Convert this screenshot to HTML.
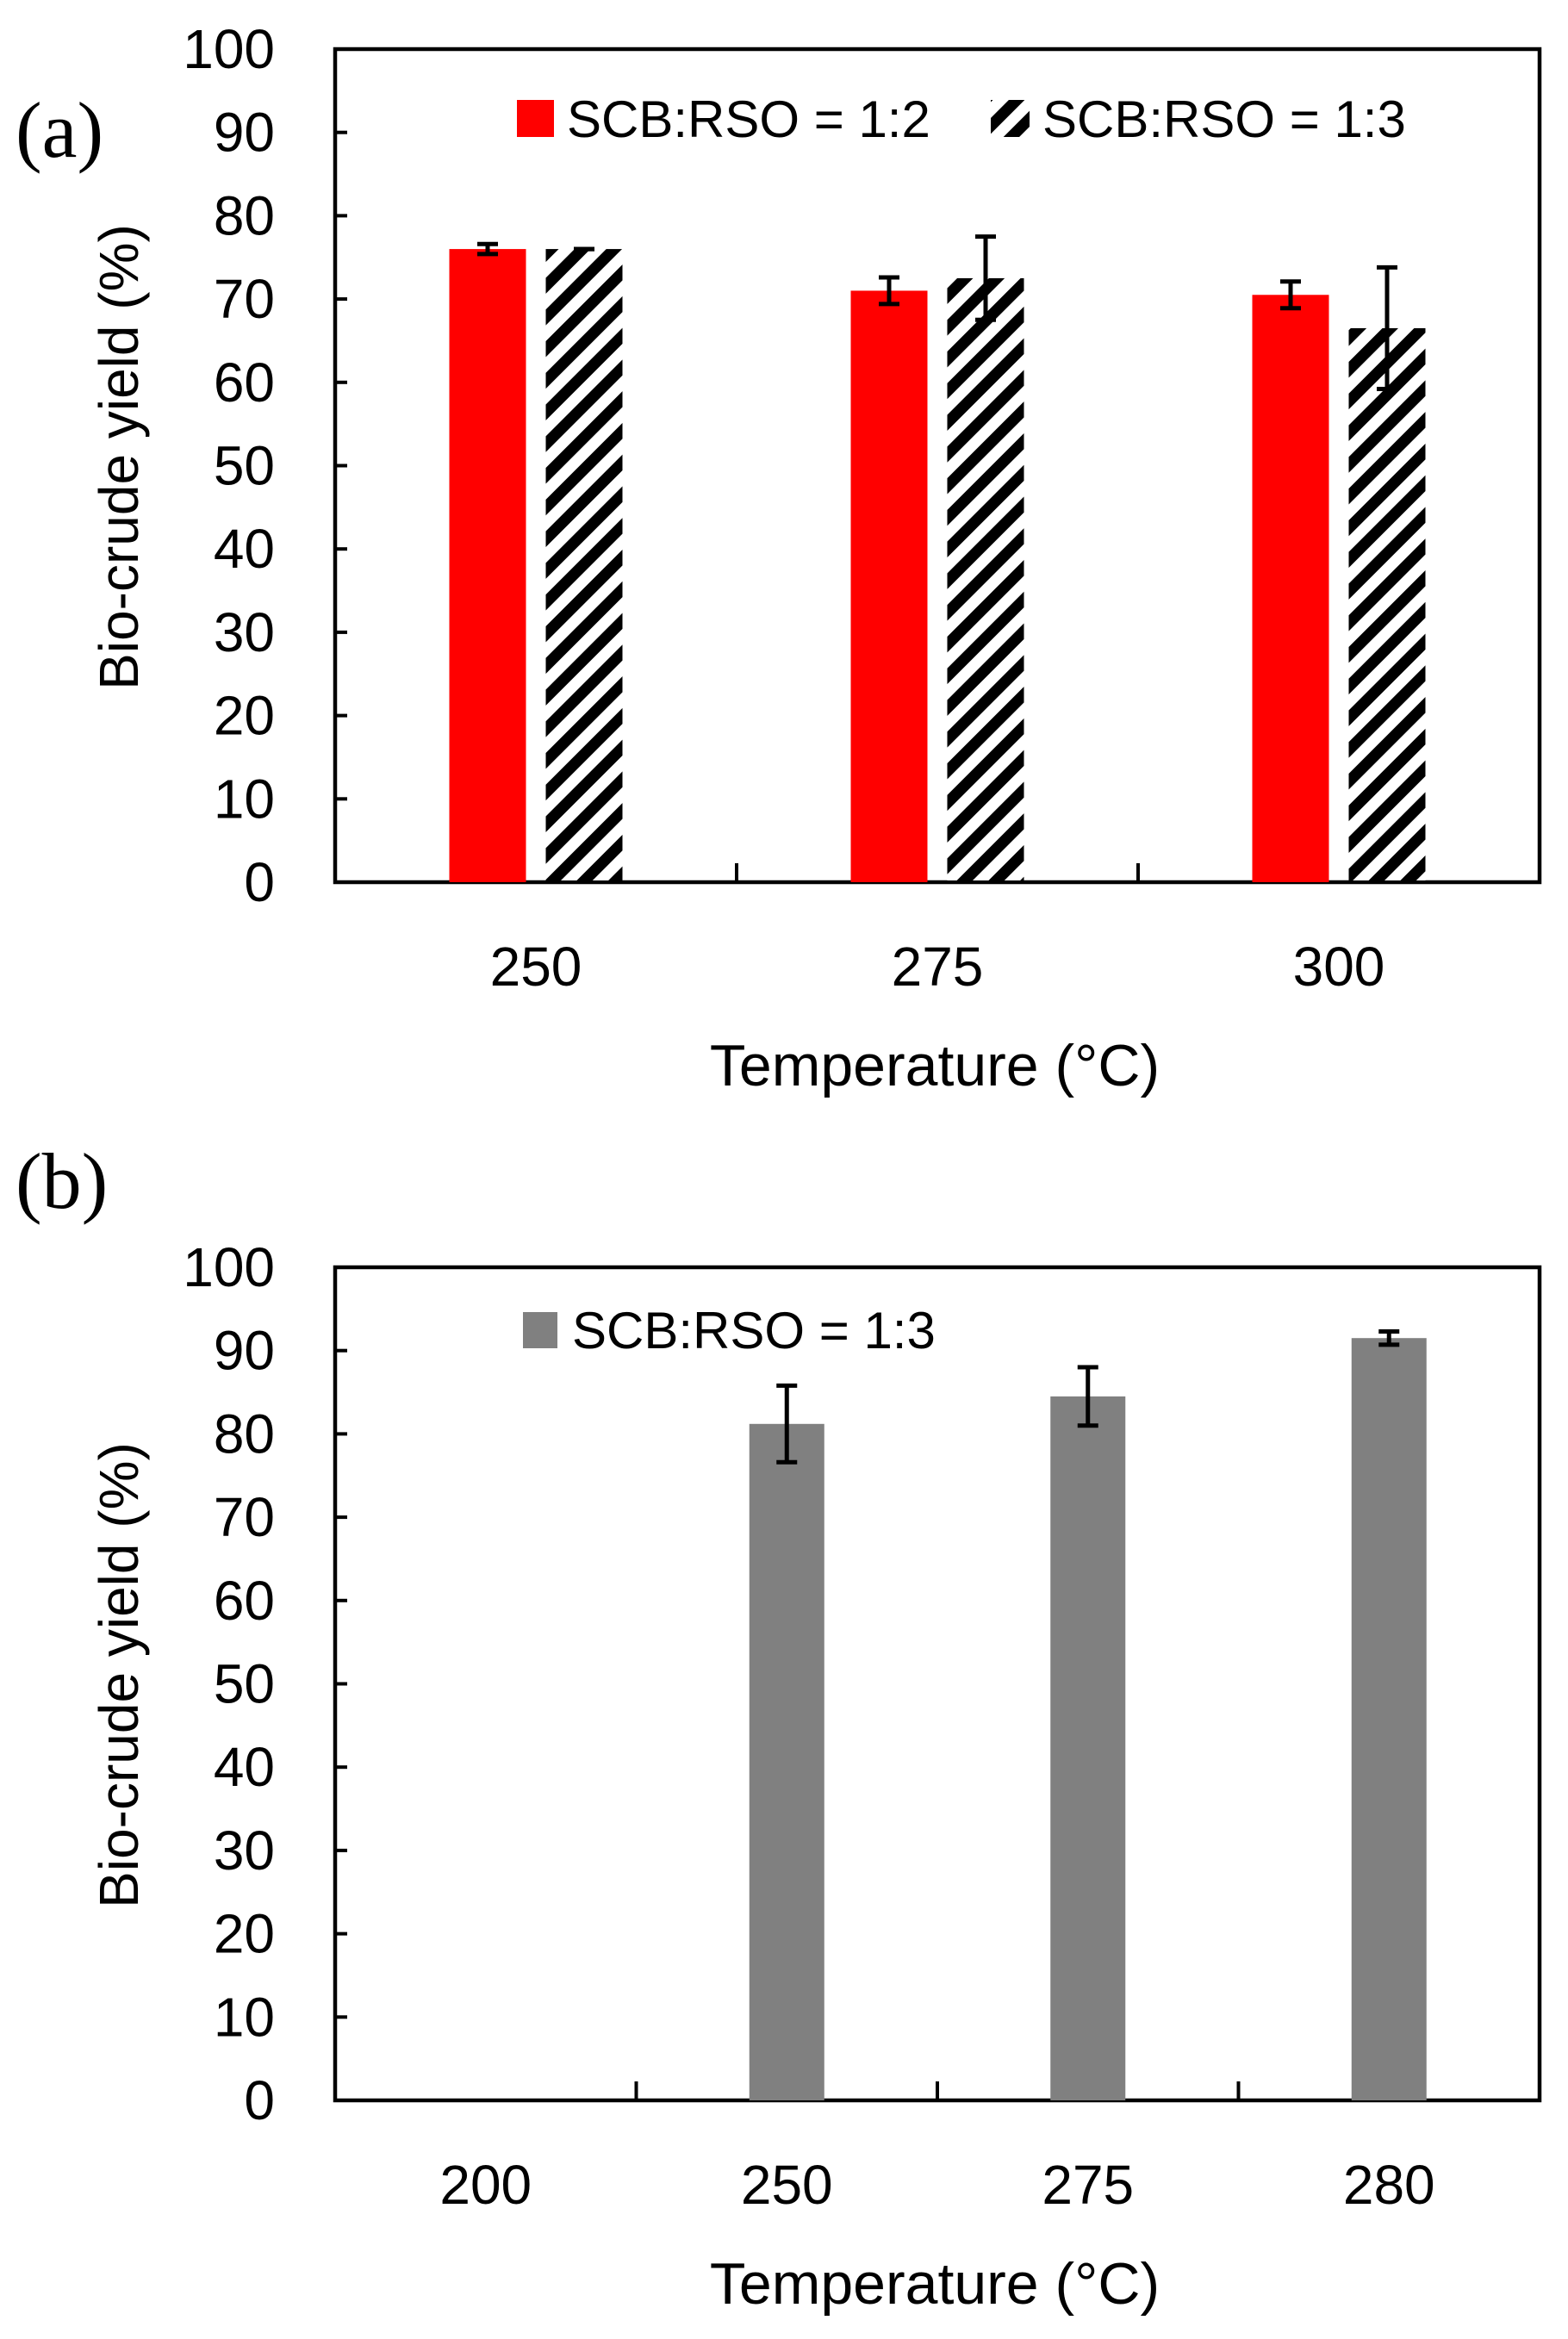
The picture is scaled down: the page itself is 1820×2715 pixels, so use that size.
<!DOCTYPE html>
<html><head><meta charset="utf-8"><style>
html,body{margin:0;padding:0;background:#fff;}
svg{display:block;font-family:"Liberation Sans",sans-serif;}
</style></head><body>
<svg id="fig" width="1820" height="2715" viewBox="0 0 1820 2715" xmlns="http://www.w3.org/2000/svg">
<defs>
<pattern id="hatch" patternUnits="userSpaceOnUse" width="26" height="26" patternTransform="rotate(45)">
<rect width="26" height="26" fill="#fff"/><rect width="13" height="26" fill="#000"/>
</pattern>
</defs>
<g id="chartA"></g>
<g id="chartB"></g>
</svg>
<script>
// Chart (a) data
const catsA = ["250", "275", "300"];
const redVals = [76, 71, 70.5];
const redErr = [0.6, 1.6, 1.6];
const hatchVals = [76, 72.5, 66.5];
const hatchErr = [0, 5, 7.3];
// Chart (b) data
const catsB = ["200", "250", "275", "280"];
const greyVals = [null, 81.2, 84.5, 91.5];
const greyErr = [0, 4.6, 3.5, 0.8];
const yTicks = [0, 10, 20, 30, 40, 50, 60, 70, 80, 90, 100];

const NS = "http://www.w3.org/2000/svg";
function mk(parent, tag, attrs, text) {
  const e = document.createElementNS(NS, tag);
  for (const k in attrs) e.setAttribute(k, attrs[k]);
  if (text !== undefined) e.textContent = text;
  parent.appendChild(e);
  return e;
}

function drawAxes(g, L, R, T, B, cats, label, labelY) {
  const yS = v => B - (v / 100) * (B - T);
  const cw = (R - L) / cats.length;
  const frame = mk(g, "rect", {x: L, y: T, width: R - L, height: B - T, fill: "none", stroke: "#000", "stroke-width": 4.5});
  
  
  yTicks.forEach(v => {
    const t = mk(g, "line", {x1: L, x2: L + 14, y1: yS(v), y2: yS(v), stroke: "#000", "stroke-width": 4});
    
    
    const tl = mk(g, "text", {x: L - 70, y: yS(v) + 22, "text-anchor": "end", "font-size": 64}, String(v));
    
    
  });
  for (let i = 1; i < cats.length; i++) {
    const x = L + i * cw;
    const t = mk(g, "line", {x1: x, x2: x, y1: B, y2: B - 22, stroke: "#000", "stroke-width": 4});
    
    
  }
  cats.forEach((c, i) => {
    const tl = mk(g, "text", {x: L + (i + 0.5) * cw, y: B + 120, "text-anchor": "middle", "font-size": 64}, c);
    
    
  });
  const yt = mk(g, "text", {x: 0, y: 0, "text-anchor": "middle", "font-size": 64, transform: "translate(160," + ((T + B) / 2 - 10) + ") rotate(-90)"}, "Bio-crude yield (%)");
  
  
  const xt = mk(g, "text", {x: (L + R) / 2 - 3, y: B + 236, "text-anchor": "middle", "font-size": 68}, "Temperature (°C)");
  
  
  const pl = mk(g, "text", {x: 18, y: labelY, "font-size": 92, "font-family": "Liberation Serif, serif"}, label);
  
  
  return {yS, cw};
}

function errBar(g, x, yS, v, e) {
  const s = {stroke: "#000", "stroke-width": 5};
  const v1 = mk(g, "line", Object.assign({x1: x, x2: x, y1: yS(v - e), y2: yS(v + e)}, s));
  
  
  [v - e, v + e].forEach(y => {
    const c = mk(g, "line", Object.assign({x1: x - 12, x2: x + 12, y1: yS(y), y2: yS(y)}, s));
    
    
  });
}

// Chart A
(function () {
  const g = document.getElementById("chartA");
  const L = 389, R = 1787, T = 57, B = 1024;
  const {yS, cw} = drawAxes(g, L, R, T, B, catsA, "(a)", 182);
  const bw = 89, off = 56;
  catsA.forEach((c, i) => {
    const cx = L + (i + 0.5) * cw;
    const r = mk(g, "rect", {x: cx - off - bw / 2, y: yS(redVals[i]), width: bw, height: B - yS(redVals[i]), fill: "#ff0000"});
    
    
    const h = mk(g, "rect", {x: cx + off - bw / 2, y: yS(hatchVals[i]), width: bw, height: B - yS(hatchVals[i]) - 2, fill: "url(#hatch)"});
    
    
    errBar(g, cx - off, yS, redVals[i], redErr[i]);
    errBar(g, cx + off, yS, hatchVals[i], hatchErr[i]);
  });
  const ls = mk(g, "rect", {x: 600, y: 116, width: 43, height: 43, fill: "#ff0000"});
  
  
  const lt = mk(g, "text", {x: 658, y: 159, "font-size": 60}, "SCB:RSO = 1:2");
  
  
  const hs = mk(g, "rect", {x: 1150, y: 116, width: 45, height: 43, fill: "url(#hatch)"});
  
  
  const ht = mk(g, "text", {x: 1210, y: 159, "font-size": 60}, "SCB:RSO = 1:3");
  
  
})();

// Chart B
(function () {
  const g = document.getElementById("chartB");
  const L = 389, R = 1787, T = 1471, B = 2438;
  const {yS, cw} = drawAxes(g, L, R, T, B, catsB, "(b)", 1402);
  const bw = 87;
  catsB.forEach((c, i) => {
    if (greyVals[i] === null) return;
    const cx = L + (i + 0.5) * cw;
    const r = mk(g, "rect", {x: cx - bw / 2, y: yS(greyVals[i]), width: bw, height: B - yS(greyVals[i]), fill: "#808080"});
    
    
    errBar(g, cx, yS, greyVals[i], greyErr[i]);
  });
  const ls = mk(g, "rect", {x: 607, y: 1523, width: 40, height: 42, fill: "#808080"});
  
  
  const lt = mk(g, "text", {x: 664, y: 1565, "font-size": 60}, "SCB:RSO = 1:3");
  
  
})();
</script>
</body></html>
